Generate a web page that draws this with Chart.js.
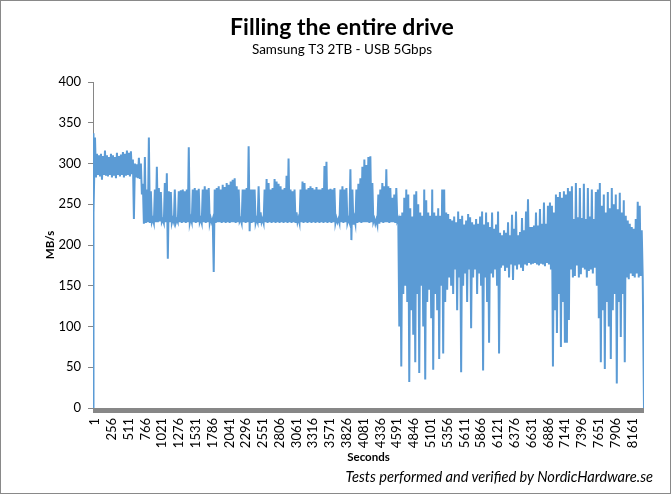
<!DOCTYPE html>
<html>
<head>
<meta charset="utf-8">
<script src="https://cdn.jsdelivr.net/npm/chart.js@4.4.1/dist/chart.umd.min.js"></script>
<style>
    html, body { margin: 0; padding: 0; background: #fff; }
    #wrap { position: relative; width: 671px; height: 494px; }
    #frame { position: absolute; left: 0; top: 0; right: 0; bottom: 0; border: 1px solid #898989; pointer-events: none; }
    #credit { position: absolute; right: 18px; top: 468px; line-height: 17px; font: italic 14.6px Lato, sans-serif; color: #000; white-space: nowrap; }
</style>
</head>
<body>
<div id="wrap">
    <canvas id="chartDrive"></canvas>
    <div id="credit">Tests performed and verified by NordicHardware.se</div>
    <div id="frame"></div>
</div>
<script>
// x axis labels (seconds)
const tickSeconds = [1, 256, 511, 766, 1021, 1276, 1531, 1786, 2041, 2296, 2551, 2806, 3061, 3316, 3571, 3826,
    4081, 4336, 4591, 4846, 5101, 5356, 5611, 5866, 6121, 6376, 6631, 6886, 7141, 7396, 7651, 7906, 8161];
const lastSecond = 8368;
const binSeconds = 30.3;   // one reading pair per ~2px of the plot

const startMBs = 0;
const endMBs = 0;

// upper reading of each bin (MB/s)
const peakMBs = [
    337, 332, 312, 310, 312, 309, 316, 310, 308, 312,
    310, 308, 313, 309, 311, 314, 312, 316, 313, 315,
    305, 300, 299, 307, 300, 275, 308, 268, 332, 266,
    232, 268, 296, 270, 265, 231, 276, 288, 266, 265,
    232, 268, 231, 266, 267, 268, 266, 268, 320, 233,
    268, 270, 267, 269, 232, 268, 272, 268, 270, 233,
    232, 268, 270, 272, 268, 274, 271, 276, 274, 278,
    280, 282, 272, 268, 232, 268, 268, 270, 321, 268,
    268, 268, 232, 272, 240, 232, 268, 281, 276, 268,
    270, 281, 278, 275, 272, 268, 270, 285, 306, 268,
    266, 268, 240, 233, 268, 278, 276, 268, 270, 272,
    270, 268, 271, 268, 268, 270, 297, 302, 268, 269,
    268, 270, 233, 232, 268, 272, 268, 270, 232, 293,
    268, 233, 268, 275, 282, 296, 305, 298, 308, 309,
    276, 232, 231, 262, 268, 276, 272, 293, 272, 270,
    258, 262, 270, 232, 236, 240, 258, 268, 262, 245,
    235, 262, 266, 250, 240, 236, 268, 255, 240, 236,
    268, 240, 236, 245, 236, 268, 268, 240, 238, 232,
    230, 235, 228, 241, 232, 236, 225, 230, 238, 234,
    228, 225, 232, 226, 235, 241, 225, 240, 228, 222,
    240, 220, 225, 241, 215, 212, 218, 215, 228, 212,
    237, 220, 241, 212, 216, 233, 218, 241, 256, 222,
    222, 224, 240, 224, 244, 226, 252, 226, 248, 252,
    248, 240, 262, 259, 265, 258, 266, 262, 270, 266,
    272, 232, 276, 234, 270, 233, 275, 232, 270, 235,
    268, 232, 265, 268, 276, 248, 262, 240, 265, 245,
    270, 250, 262, 244, 264, 240, 255, 236, 230, 226,
    222, 220, 232, 253, 248, 218
];

// lower reading of each bin (MB/s)
const dipMBs = [
    240, 283, 286, 284, 280, 286, 285, 284, 286, 283,
    285, 282, 286, 284, 286, 283, 285, 286, 284, 287,
    232, 283, 282, 281, 262, 226, 227, 228, 227, 228,
    227, 228, 228, 229, 228, 227, 228, 183, 228, 227,
    228, 227, 228, 228, 227, 228, 227, 228, 227, 228,
    228, 227, 228, 228, 227, 228, 227, 228, 227, 228,
    167, 227, 228, 228, 227, 228, 227, 228, 227, 228,
    228, 227, 228, 229, 227, 228, 227, 228, 217, 227,
    228, 227, 228, 227, 228, 227, 228, 227, 228, 227,
    228, 227, 228, 227, 228, 227, 228, 227, 228, 227,
    228, 227, 228, 227, 228, 227, 228, 227, 228, 227,
    228, 227, 228, 227, 228, 227, 228, 227, 228, 227,
    228, 227, 228, 227, 228, 227, 228, 227, 228, 206,
    225, 226, 227, 228, 227, 228, 228, 228, 227, 228,
    228, 226, 225, 226, 228, 227, 228, 228, 227, 228,
    228, 227, 229, 100, 51, 140, 150, 130, 32, 120,
    90, 56, 140, 43, 150, 100, 35, 130, 145, 110,
    47, 140, 120, 60, 150, 67, 130, 145, 160, 150,
    140, 170, 120, 160, 44, 150, 165, 130, 170, 98,
    160, 170, 140, 165, 150, 46, 160, 130, 80, 165,
    160, 170, 150, 67, 172, 175, 168, 172, 160, 176,
    157, 175, 170, 176, 172, 168, 176, 175, 178, 176,
    177, 178, 176, 175, 177, 176, 174, 178, 176, 170,
    51, 120, 92, 140, 75, 130, 80, 80, 108, 170,
    160, 162, 175, 160, 164, 172, 170, 160, 168, 170,
    165, 172, 150, 110, 56, 120, 48, 130, 100, 60,
    120, 140, 30, 130, 87, 140, 56, 160, 158, 165,
    162, 160, 165, 160, 162, 160
];

const FONT = "Lato";
const BLUE = "#5b9bd5";
const AXIS = "#868686";

function buildPoints() {
    const pts = [{ x: 1, y: startMBs }];
    peakMBs.forEach((v, i) => {
        pts.push({ x: 1 + i * binSeconds, y: v });
        pts.push({ x: 1 + (i + 0.5) * binSeconds, y: dipMBs[i] });
    });
    pts.push({ x: lastSecond, y: endMBs });
    return pts;
}

// thick grey band under the plot (Excel's merged tick marks)
const axisBand = {
    id: "axisBand",
    beforeDatasetsDraw(chart) {
        const { ctx, chartArea: a } = chart;
        ctx.save();
        ctx.fillStyle = "#878787";
        ctx.fillRect(a.left, a.bottom, a.right - a.left, 5);
        ctx.restore();
    },
};

document.addEventListener("DOMContentLoaded", () => {
    const c = document.getElementById("chartDrive");
    new Chart(c, {
        type: "line",
        data: {
            datasets: [{
                data: buildPoints(),
                borderColor: BLUE, borderWidth: 2,
                pointRadius: 0, tension: 0, fill: false,
            }],
        },
        options: {
            responsive: true, maintainAspectRatio: false, animation: false,
            parsing: false, normalized: true,
            layout: { padding: { top: 4, left: 40, right: 27, bottom: 28 } },
            plugins: {
                legend: { display: false },
                tooltip: { enabled: false },
                title: {
                    display: true, text: "Filling the entire drive", color: "#000",
                    font: { family: FONT, size: 23, weight: "bold" }, padding: { top: 10, bottom: 0 },
                },
                subtitle: {
                    display: true, text: "Samsung T3 2TB - USB 5Gbps", color: "#000",
                    font: { family: FONT, size: 13.5 }, padding: { top: 0, bottom: 24.2 },
                },
            },
            scales: {
                x: {
                    type: "linear", min: 1, max: lastSecond,
                    afterBuildTicks: s => { s.ticks = tickSeconds.map(v => ({ value: v })); },
                    afterFit: s => { s.height = 58; },
                    grid: { display: false, drawTicks: false },
                    border: { display: false },
                    ticks: {
                        autoSkip: false, minRotation: 90, maxRotation: 90, padding: 10, labelOffset: 2,
                        color: "#000", font: { family: FONT, size: 13 },
                        callback: v => String(v),
                    },
                    title: {
                        display: true, text: "Seconds", color: "#000",
                        font: { family: FONT, size: 11.5, weight: "bold" }, padding: 2,
                    },
                },
                y: {
                    min: 0, max: 400,
                    afterFit: s => { s.width = 53; },
                    grid: { drawOnChartArea: false, drawTicks: true, tickLength: 5, color: AXIS },
                    border: { color: AXIS, width: 1 },
                    ticks: { stepSize: 50, padding: 7, color: "#000", font: { family: FONT, size: 13 } },
                    title: {
                        display: true, text: "MB/s", color: "#000",
                        font: { family: FONT, size: 11.5, weight: "bold" }, padding: { top: 3, bottom: 0 },
                    },
                },
            },
        },
        plugins: [axisBand],
    });
});
</script>
</body>
</html>
